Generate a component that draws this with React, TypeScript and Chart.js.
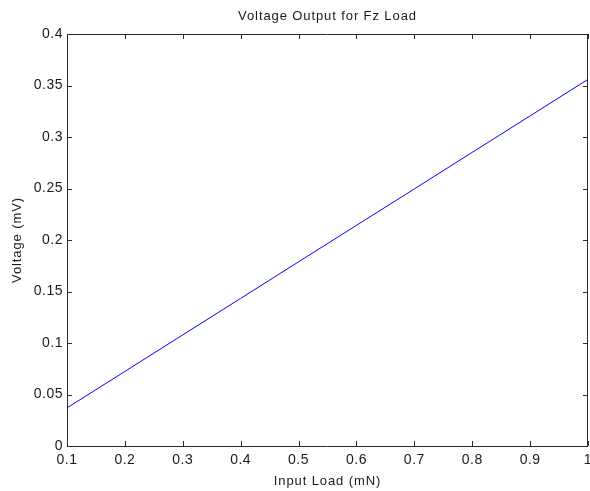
import React, { useEffect, useRef } from "react";
import { Chart, registerables } from "chart.js";

Chart.register(...registerables);

const titleText = "Voltage Output for Fz Load";
const xLabel = "Input Load (mN)";
const yLabel = "Voltage (mV)";
const loads = [0.1, 0.2, 0.3, 0.4, 0.5, 0.6, 0.7, 0.8, 0.9, 1.0];
const voltages = [0.037, 0.0724, 0.1079, 0.1433, 0.1788, 0.2142, 0.2496, 0.2851, 0.3205, 0.356];

const FONT = "Liberation Sans, Arial, sans-serif";
const TICK_SPACING = "0.5px";
const LABEL_SPACING = "0.9px";
const AXIS_COLOR = "#2a2a2a";
const TEXT_COLOR = "#1a1a1a";

const fmt = (v: number) => String(Number(Number(v).toFixed(2)));

const spacingPlugin = {
  id: "spacing",
  beforeUpdate(chart: any) {
    chart.ctx.letterSpacing = TICK_SPACING;
  },
  beforeLayout(chart: any) {
    chart.ctx.letterSpacing = TICK_SPACING;
  },
  beforeDraw(chart: any) {
    chart.ctx.letterSpacing = TICK_SPACING;
  },
};

const framePlugin = {
  id: "frame",
  afterDraw(chart: any) {
    const ctx = chart.ctx;
    const a = chart.chartArea;
    const xs = chart.scales.x;
    const ys = chart.scales.y;
    const tl = 5;
    ctx.save();
    ctx.strokeStyle = AXIS_COLOR;
    ctx.lineWidth = 1;
    ctx.beginPath();
    ctx.rect(Math.round(a.left) + 0.5, Math.round(a.top) + 0.5, Math.round(a.right - a.left) - 1, Math.round(a.bottom - a.top));
    xs.ticks.forEach((t: any) => {
      const px = Math.round(xs.getPixelForValue(t.value)) + 0.5;
      ctx.moveTo(px, a.bottom);
      ctx.lineTo(px, a.bottom - tl);
      ctx.moveTo(px, a.top);
      ctx.lineTo(px, a.top + tl);
    });
    ys.ticks.forEach((t: any) => {
      const py = Math.round(ys.getPixelForValue(t.value)) + 0.5;
      ctx.moveTo(a.left, py);
      ctx.lineTo(a.left + tl, py);
      ctx.moveTo(a.right, py);
      ctx.lineTo(a.right - tl, py);
    });
    ctx.stroke();

    ctx.letterSpacing = LABEL_SPACING;
    ctx.fillStyle = TEXT_COLOR;
    ctx.font = `13px ${FONT}`;
    ctx.textAlign = "center";
    ctx.textBaseline = "alphabetic";
    const cx = (a.left + a.right) / 2;
    ctx.fillText(titleText, cx, 20);
    ctx.fillText(xLabel, cx, 485);
    ctx.translate(20.5, (a.top + a.bottom) / 2);
    ctx.rotate(-Math.PI / 2);
    ctx.fillText(yLabel, 0, 0);
    ctx.restore();
  },
};

export default function App() {
  const ref = useRef<HTMLCanvasElement | null>(null);
  useEffect(() => {
    document.body.style.margin = "0";
    document.body.style.background = "#ffffff";
    if (!ref.current) return;
    const chart = new Chart(ref.current, {
      type: "line",
      data: {
        datasets: [
          {
            data: loads.map((x, i) => ({ x, y: voltages[i] })),
            borderColor: "#0000ff",
            borderWidth: 1,
            pointRadius: 0,
            fill: false,
            tension: 0,
          },
        ],
      },
      options: {
        animation: false,
        responsive: false,
        maintainAspectRatio: false,
        devicePixelRatio: 1,
        layout: { padding: { top: 34, right: 2, left: 0, bottom: 0 } },
        plugins: {
          legend: { display: false },
          title: { display: false },
          tooltip: { enabled: false },
        },
        scales: {
          x: {
            type: "linear",
            min: 0.1,
            max: 1,
            grid: { display: false, drawTicks: false },
            border: { display: false },
            ticks: {
              stepSize: 0.1,
              padding: 6,
              color: TEXT_COLOR,
              font: { family: FONT, size: 14 },
              maxRotation: 0,
              autoSkip: false,
              callback: (v: any) => fmt(v),
            },
            afterFit: (s: any) => {
              s.height = 45;
              s.paddingLeft = 0;
              s.paddingRight = 0;
            },
          },
          y: {
            type: "linear",
            min: 0,
            max: 0.4,
            grid: { display: false, drawTicks: false },
            border: { display: false },
            ticks: {
              stepSize: 0.05,
              padding: 4,
              color: TEXT_COLOR,
              font: { family: FONT, size: 14 },
              autoSkip: false,
              callback: (v: any) => fmt(v),
            },
            afterFit: (s: any) => {
              s.width = 67;
              s.paddingTop = 0;
              s.paddingBottom = 0;
            },
          },
        },
      },
      plugins: [spacingPlugin, framePlugin],
    });
    return () => chart.destroy();
  }, []);
  return (
    <div style={{ width: 590, height: 491, position: "relative", background: "#fff" }}>
      <canvas ref={ref} width={590} height={491} style={{ display: "block", width: 590, height: 491 }} />
    </div>
  );
}
